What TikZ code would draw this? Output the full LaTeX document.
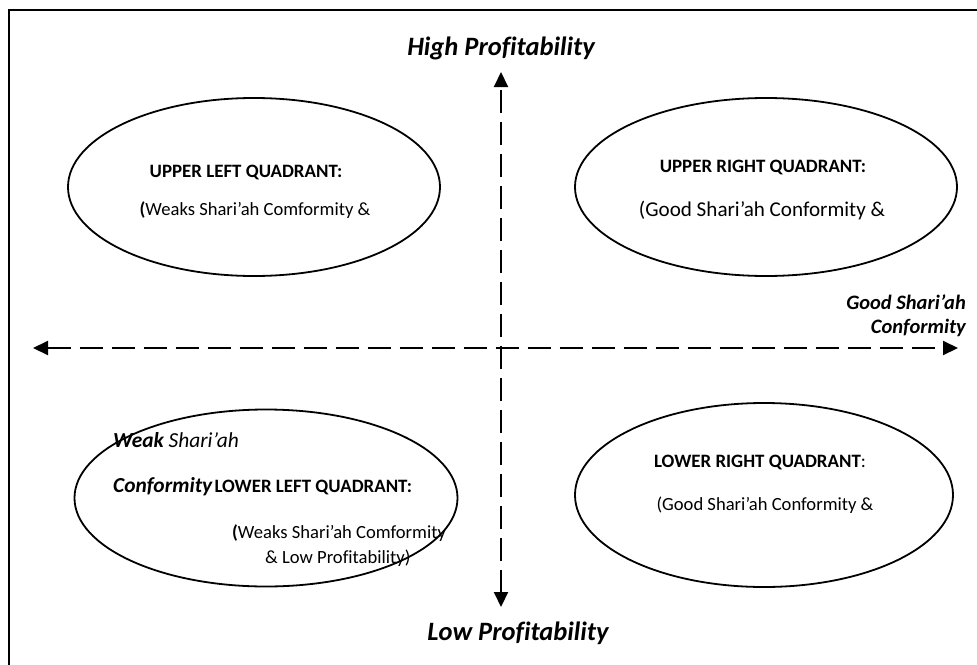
\documentclass[tikz,border=0pt]{standalone}
\usepackage{fontspec}
\setmainfont{Carlito}[Ligatures=NoCommon]
\usetikzlibrary{arrows.meta,shapes.geometric}
\tikzset{
  quad/.style={ellipse,draw=black,line width=1.8pt,inner sep=0pt},
  axis/.style={line width=2pt,dash pattern=on 23pt off 9pt,{Triangle[length=15pt,width=14pt]}-{Triangle[length=15pt,width=14pt]}},
  big/.style={font=\fontsize{26.5}{30}\selectfont\bfseries\itshape},
  mid/.style={font=\fontsize{20.5}{23}\selectfont\bfseries\itshape},
  head/.style={font=\fontsize{18.9}{21}\selectfont\bfseries},
  body/.style={font=\fontsize{18.6}{21}\selectfont},
  bodyL/.style={font=\fontsize{21.1}{24}\selectfont},
  lbl/.style={inner sep=0pt}
}
\begin{document}
\begin{tikzpicture}[x=1pt,y=-1pt]
\useasboundingbox (0,0) rectangle (977,664);
\clip (0,0) rectangle (977,664);
\fill[white] (0,0) rectangle (977,664);
\draw[line width=1.6pt] (990,10) -- (9,10) -- (9,680);
% ellipses
\node[quad,minimum width=372pt,minimum height=178pt] (ul) at (254,187) {};
\node[quad,minimum width=382pt,minimum height=178pt] (ur) at (766,187) {};
\node[quad,minimum width=383pt,minimum height=177pt] (ll) at (266,498) {};
\node[quad,minimum width=378pt,minimum height=184pt] (lr) at (764,495) {};
% axes
\coordinate (top) at (501,72);
\coordinate (bot) at (501,607);
\coordinate (lft) at (33,348);
\coordinate (rgt) at (958,348);
\draw[axis] (bot) -- (top);
\draw[axis] (lft) -- (rgt);
% axis labels
\node[big,lbl] (hp) at (501,48) {High Profitability};
\node[big,lbl] (lp) at (518,633) {Low Profitability};
\node[mid,lbl,anchor=east,align=right] (gs) at (966,316) {Good Shari’ah\\[1pt]Conformity};
% quadrant texts
\node[head,lbl] (ult) at (246,172) {UPPER LEFT QUADRANT:};
\node[body,lbl] (ulb) at (255,210) {\textbf{(}Weaks Shari’ah Comformity \&};
\node[head,lbl] (urt) at (763,167) {UPPER RIGHT QUADRANT:};
\node[bodyL,lbl] (urb) at (762,210) {(Good Shari’ah Conformity \&};
\node[lbl,anchor=west,font=\fontsize{21.4}{24}\selectfont\itshape] (ws) at (113,440) {\textbf{Weak} Shari’ah};
\node[lbl,anchor=west] (llt) at (113,487) {{\fontsize{21.4}{24}\selectfont\bfseries\itshape Conformity} {\fontsize{18.9}{21}\selectfont\bfseries LOWER LEFT QUADRANT:}};
\node[body,lbl,anchor=west] (llb1) at (232,533) {\textbf{(}Weaks Shari’ah Comformity};
\node[body,lbl,anchor=west] (llb2) at (265,558) {\& Low Profitability)};
\node[head,lbl] (lrt) at (760,462) {LOWER RIGHT QUADRANT\textmd{:}};
\node[body,lbl] (lrb) at (765,505) {(Good Shari’ah Conformity \&};
\end{tikzpicture}
\end{document}
